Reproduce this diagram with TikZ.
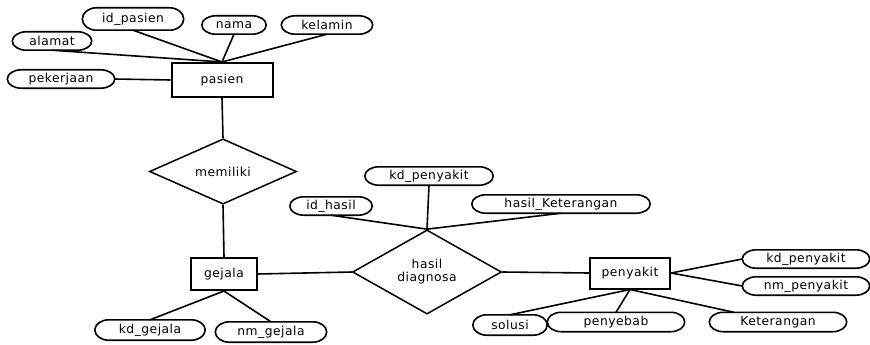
\documentclass[tikz,border=0pt]{standalone}
\usepackage{fontspec}
\setmainfont[LetterSpace=4]{DejaVu Sans}
\usetikzlibrary{shapes.geometric,calc}
% oval outline with half-ellipse ends around an attribute node
\newcommand\ovalframe[1]{%
  \draw[attrline] let \p1=(#1.north east), \p2=(#1.south west),
      \n1={abs(\y1-\y2)/2} in
    ([xshift=14pt]#1.north west) -- ([xshift=-14pt]#1.north east)
    arc[start angle=90, end angle=-90, x radius=14pt, y radius=\n1]
    -- ([xshift=14pt]#1.south west)
    arc[start angle=270, end angle=90, x radius=14pt, y radius=\n1]
    -- cycle;}
\begin{document}
\begin{tikzpicture}[x=1pt,y=-1pt,
  every node/.style={font=\fontsize{12.3}{13}\selectfont, inner sep=0pt},
  attr/.style={minimum height=18pt},
  attrline/.style={line width=1.6pt},
  ent/.style={draw, line width=2pt},
  rel/.style={draw, diamond, line width=1.5pt, align=center},
  link/.style={line width=1.6pt}]
\useasboundingbox (0,0) rectangle (870,345);

% pasien and its attributes
\node[ent, minimum width=101pt, minimum height=34pt] (ps) at (222,80) {pasien};
\node[attr, minimum width=101pt, minimum height=22pt] (idp) at (133,19) {id\_pasien};
\node[attr, minimum width=64pt] (nama) at (234,25) {nama};
\node[attr, minimum width=91pt] (kel) at (327,25) {kelamin};
\node[attr, minimum width=79pt] (alm) at (52,41) {alamat};
\node[attr, minimum width=107pt] (pkj) at (61,79) {pekerjaan};

% relationship memiliki
\node[rel, minimum width=147pt, minimum height=53pt] (mem) at (223,171.5) {memiliki};

% gejala and its attributes
\node[ent, minimum width=66pt, minimum height=32pt] (gj) at (224,274) {gejala};
\node[attr, minimum width=110pt, minimum height=20pt] (kdg) at (150,330) {kd\_gejala};
\node[attr, minimum width=111pt, minimum height=20pt] (nmg) at (271,332) {nm\_gejala};

% relationship hasil diagnosa and its attributes
\node[rel, minimum width=149pt, minimum height=81pt] (hd) at (427,272) {hasil\\diagnosa};
\node[attr, minimum width=128pt] (kdp1) at (429,176) {kd\_penyakit};
\node[attr, minimum width=82pt] (idh) at (331,206) {id\_hasil};
\node[attr, minimum width=178pt] (hk) at (561,204) {hasil\_Keterangan};

% penyakit and its attributes
\node[ent, minimum width=80pt, minimum height=31pt] (pk) at (630,273) {penyakit};
\node[attr, minimum width=127pt] (kdp2) at (806,259) {kd\_penyakit};
\node[attr, minimum width=127pt] (nmp) at (806,286) {nm\_penyakit};
\node[attr, minimum width=74pt, minimum height=20pt] (sol) at (510,325) {solusi};
\node[attr, minimum width=137pt, minimum height=19pt] (pyb) at (616,322) {penyebab};
\node[attr, minimum width=137pt, minimum height=19pt] (ket) at (778,322) {Keterangan};

\foreach \nm in {idp,nama,kel,alm,pkj,kdg,nmg,kdp1,idh,hk,kdp2,nmp,sol,pyb,ket}
  {\ovalframe{\nm}}

% connectors
\draw[link] (idp.south) -- (ps.north);
\draw[link] (nama.south) -- (ps.north);
\draw[link] (kel.south) -- (ps.north);
\draw[link] (alm.south) -- (ps.north);
\draw[link] (pkj.east) -- (ps.west);
\draw[link] (ps.south) -- (mem.north);
\draw[link] (mem.south) -- (gj.north);
\draw[link] (gj.south) -- (kdg.north);
\draw[link] (gj.south) -- (nmg.north);
\draw[link] (gj.east) -- (hd.west);
\draw[link] (hd.east) -- (pk.west);
\draw[link] (idh.south) -- (hd.north);
\draw[link] (kdp1.south) -- (hd.north);
\draw[link] (hk.south) -- (hd.north);
\draw[link] (pk.east) -- (kdp2.west);
\draw[link] (pk.east) -- (nmp.west);
\draw[link] (pk.south) -- (sol.north);
\draw[link] (pk.south) -- (pyb.north);
\draw[link] (pk.south) -- (ket);
\end{tikzpicture}
\end{document}
